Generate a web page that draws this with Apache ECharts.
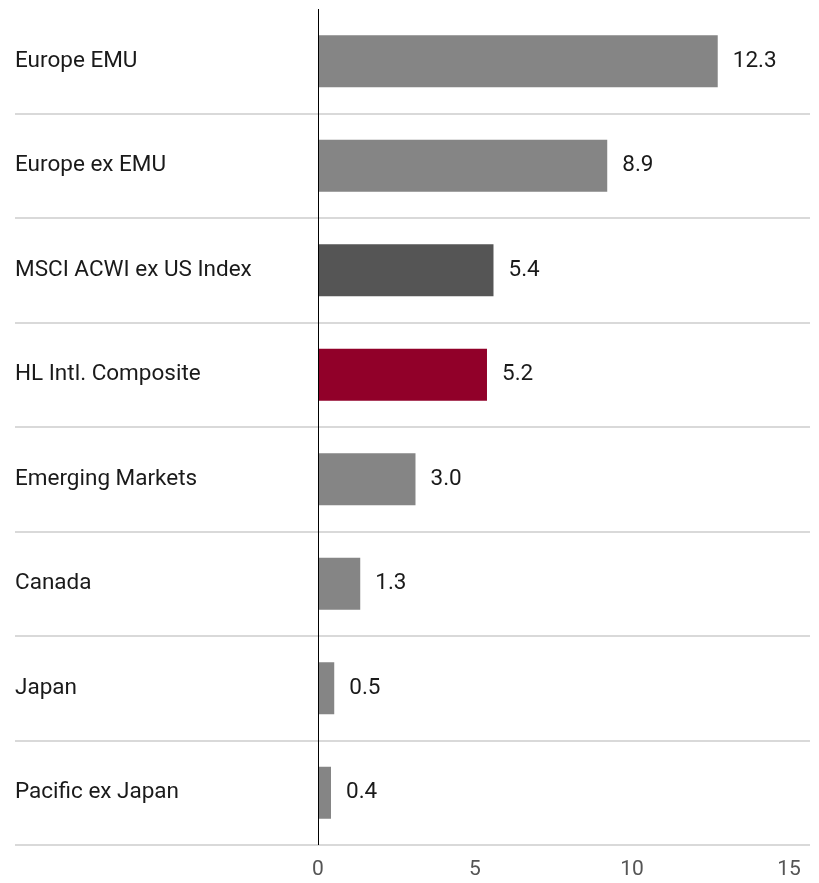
<!DOCTYPE html>
<html>
<head>
<meta charset="utf-8">
<script src="https://cdn.jsdelivr.net/npm/echarts@6/dist/echarts.min.js"></script>
<style>
  html, body { margin: 0; padding: 0; background: #ffffff; }
  #chart { width: 819px; height: 883px; }
</style>
</head>
<body>
<div id="chart"></div>
<script>
// Regional returns, top to bottom
const categories = [
  'Europe EMU',
  'Europe ex EMU',
  'MSCI ACWI ex US Index',
  'HL Intl. Composite',
  'Emerging Markets',
  'Canada',
  'Japan',
  'Pacific ex Japan'
];
const values = [12.3, 8.9, 5.4, 5.2, 3.0, 1.3, 0.5, 0.4];
const barColors = ['#858585', '#858585', '#555555', '#910029', '#858585', '#858585', '#858585', '#858585'];
const tickValues = [0, 5, 10, 15];

const FONT = 'Roboto, "Noto Sans", sans-serif';

// x range runs left of zero so the row separators reach the label column
const X_MIN = -9.323;
const X_MAX = 15.139;

// right padding used to right-align each tick label on its tick
const tickPad = { 5: 11, 10: 22, 15: 33 };

const chart = echarts.init(document.getElementById('chart'), null, { renderer: 'canvas' });

const tickRich = {};
Object.keys(tickPad).forEach(k => {
  tickRich['p' + k] = { padding: [0, tickPad[k], 0, 0], color: '#555555', fontFamily: FONT, fontSize: 21 };
});

chart.setOption({
  backgroundColor: '#ffffff',
  animation: false,
  grid: { left: 15, right: 9, top: 9, bottom: 38, containLabel: false },
  xAxis: {
    type: 'value',
    min: X_MIN,
    max: X_MAX,
    axisLine: { show: false },
    axisTick: { show: false },
    splitLine: { show: false },
    axisLabel: {
      customValues: tickValues,
      margin: 14,
      color: '#555555',
      fontFamily: FONT,
      fontSize: 21,
      formatter: function (v) {
        if (v === 0) return '0';
        return '{p' + v + '|' + v + '}';
      },
      rich: tickRich
    }
  },
  yAxis: {
    type: 'category',
    data: categories,
    inverse: true,
    axisLine: { show: false },
    axisTick: { show: false },
    splitLine: {
      show: true,
      showMinLine: false,
      lineStyle: { color: '#d9d9d9', width: 2 }
    },
    axisLabel: {
      inside: true,
      margin: 0,
      align: 'left',
      color: '#1a1a1a',
      fontFamily: FONT,
      fontSize: 22.5
    }
  },
  series: [{
    type: 'bar',
    data: values.map((v, i) => ({ value: v, itemStyle: { color: barColors[i] } })),
    barWidth: 52,
    label: {
      show: true,
      position: 'right',
      distance: 15,
      color: '#1a1a1a',
      fontFamily: FONT,
      fontSize: 22.5,
      formatter: p => p.value.toFixed(1)
    },
    markLine: {
      silent: true,
      symbol: 'none',
      label: { show: false },
      lineStyle: { color: '#000000', width: 1, type: 'solid' },
      data: [{ xAxis: 0 }]
    }
  }]
});
</script>
</body>
</html>
